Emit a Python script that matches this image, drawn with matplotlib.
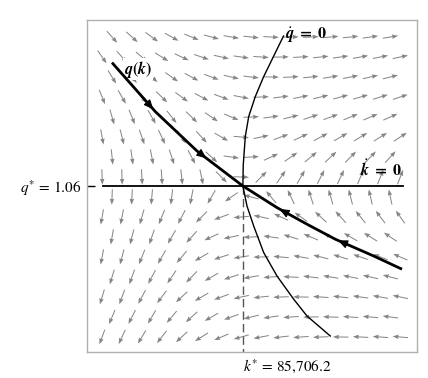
import numpy as np
import matplotlib.pyplot as plt

plt.rcParams['mathtext.fontset'] = 'custom'
plt.rcParams['mathtext.rm'] = 'STIXGeneral'
plt.rcParams['mathtext.it'] = 'STIXGeneral:italic'
plt.rcParams['mathtext.bf'] = 'STIXGeneral:italic:bold'
plt.rcParams['mathtext.sf'] = 'STIXGeneral:bold'
plt.rcParams['font.family'] = 'STIXGeneral'

k_star = 85706.2
q_star = 1.06

# sample grid of the direction field (rows alternate by half a step)
k_even = np.arange(52800, 123000, 5000)
k_odd = np.arange(50300, 126000, 5000)
q_rows = 1.1345 - 0.01 * np.arange(16)

# arrow directions, degrees, one list per row (top to bottom)
field_deg = [
    [-48, -42, -36, -29, -22, -15, -10, -6, -3, 1, 3, 5, 6, 8, 9],
    [-55, -48, -40, -32, -25, -19, -13, -8, -4, 1, 3, 6, 8, 10, 11, 12],
    [-58, -50, -42, -35, -28, -20, -13, -7, -1, 3, 6, 9, 11, 13, 14],
    [-68, -60, -52, -44, -36, -28, -20, -11, 2, 7, 11, 13, 15, 16, 17, 18],
    [-74, -68, -60, -52, -44, -34, -23, 2, 8, 14, 18, 20, 22, 23, 24],
    [-80, -76, -71, -65, -57, -47, -30, -5, 12, 20, 25, 28, 30, 31, 32, 33],
    [-84, -82, -79, -72, -62, -42, -8, 3, 25, 35, 40, 43, 45, 46, 47],
    [-88, -88, -87, -86, -84, -78, -45, -2, 45, 55, 60, 63, 65, 67, 68, 69],
    [-92, -93, -95, -97, -101, -120, -145, 165, 130, 115, 108, 106, 104, 103, 102],
    [-100, -101, -106, -112, -118, -135, -160, -175, 168, 155, 145, 137, 132, 129, 127, 125],
    [-100, -104, -109, -120, -132, -155, -168, -178, 172, 163, 157, 153, 150, 148, 146],
    [-101, -105, -112, -120, -130, -150, -162, -171, -179, 175, 170, 166, 163, 161, 159, 157],
    [-107, -110, -118, -124, -134, -150, -162, -170, -176, 177, 173, 171, 169, 167, 165],
    [-107, -110, -118, -127, -137, -150, -160, -168, -174, -178, 179, 176, 174, 172, 170, 168],
    [-113, -117, -120, -130, -138, -150, -160, -166, -172, -176, -179, 178, 176, 175, 173],
    [-110, -115, -121, -128, -137, -148, -157, -164, -169, -173, -176, -178, 179, 177, 176, 175],
]

# stable arm q(k)
saddle_k = [52788, 63677, 74165, 77108, 85706.2, 94285, 101830, 108947, 118605, 125723]
saddle_q = [1.1217, 1.0972, 1.0775, 1.0730, 1.0600, 1.0492, 1.0409, 1.0334, 1.0250, 1.0184]

# qdot = 0 locus
qdot_k = [95920, 90940, 88827, 87168, 86312, 85800, 85706.2, 86740, 88425, 90940, 94285, 98485, 101830, 107690]
qdot_q = [1.135, 1.1147, 1.1047, 1.0947, 1.0847, 1.0705, 1.060, 1.050, 1.040, 1.0267, 1.015, 1.0034, 0.995, 0.985]

kdot_k = [50500, 126000]

fig = plt.figure(figsize=(4.28, 3.78), dpi=100)
ax = fig.add_axes([87 / 428, 26 / 378, 330 / 428, 332 / 378])
ax.set_xlim(46500, 129500)
ax.set_ylim(0.977, 1.143)

for i, row in enumerate(field_deg):
    ks = k_even if i % 2 == 0 else k_odd
    a = np.radians(row)
    ax.quiver(ks, np.full(len(ks), q_rows[i]), np.cos(a), np.sin(a),
              angles='uv', scale_units='dots', scale=1 / 15.5, pivot='middle',
              units='dots', width=1.0, headwidth=4.5, headlength=6,
              headaxislength=5.5, color='#858585', zorder=1)

ax.plot(kdot_k, [q_star, q_star], color='black', lw=1.3, zorder=2)
ax.plot([k_star, k_star], [q_star, 0.977], color='#555555', lw=1.0,
        dashes=(6, 3), zorder=2)
ax.plot(qdot_k, qdot_q, color='black', lw=1.0, zorder=3)
ax.plot(saddle_k, saddle_q, color='black', lw=2.0, zorder=4,
        solid_capstyle='butt')

# direction markers along the stable arm
for tip, tail in [(1, 0), (3, 2), (5, 6), (7, 8)]:
    ax.annotate('', xy=(saddle_k[tip], saddle_q[tip]),
                xytext=(saddle_k[tail], saddle_q[tail]),
                arrowprops=dict(arrowstyle='-|>,head_length=0.7,head_width=0.3',
                                color='black', lw=0.8, mutation_scale=8.5),
                zorder=5)

ax.text(96400, 1.1355, r'$\mathbf{\dot{q}}\mathsf{\ =\ 0}$', fontsize=11.5,
        va='center', ha='left')
ax.text(125900, 1.0635, r'$\mathbf{\dot{k}}\mathsf{\ =\ 0}$', fontsize=11.5,
        va='bottom', ha='right')
ax.text(55800, 1.1185, r'$\mathbf{q}\mathsf{(}\mathbf{k}\mathsf{)}$', fontsize=11.5,
        va='center', ha='left',
        bbox=dict(facecolor='white', edgecolor='none', pad=0.5))

ax.set_yticks([q_star])
ax.set_yticklabels([r'$q^{*}\,=\,1.06$'], fontsize=11)
ax.set_xticks([k_star])
ax.set_xticklabels([r'$k^{*}\,=\,85{,}706.2$'], fontsize=11)
for lab in ax.get_xticklabels():
    lab.set_horizontalalignment('left')
ax.tick_params(axis='y', direction='in', length=6, width=1, color='black', pad=4)
ax.tick_params(axis='x', length=0, pad=4)

for s in ax.spines.values():
    s.set_color('#b0b0b0')
    s.set_linewidth(1.0)

fig.savefig('out.png', dpi=100)
